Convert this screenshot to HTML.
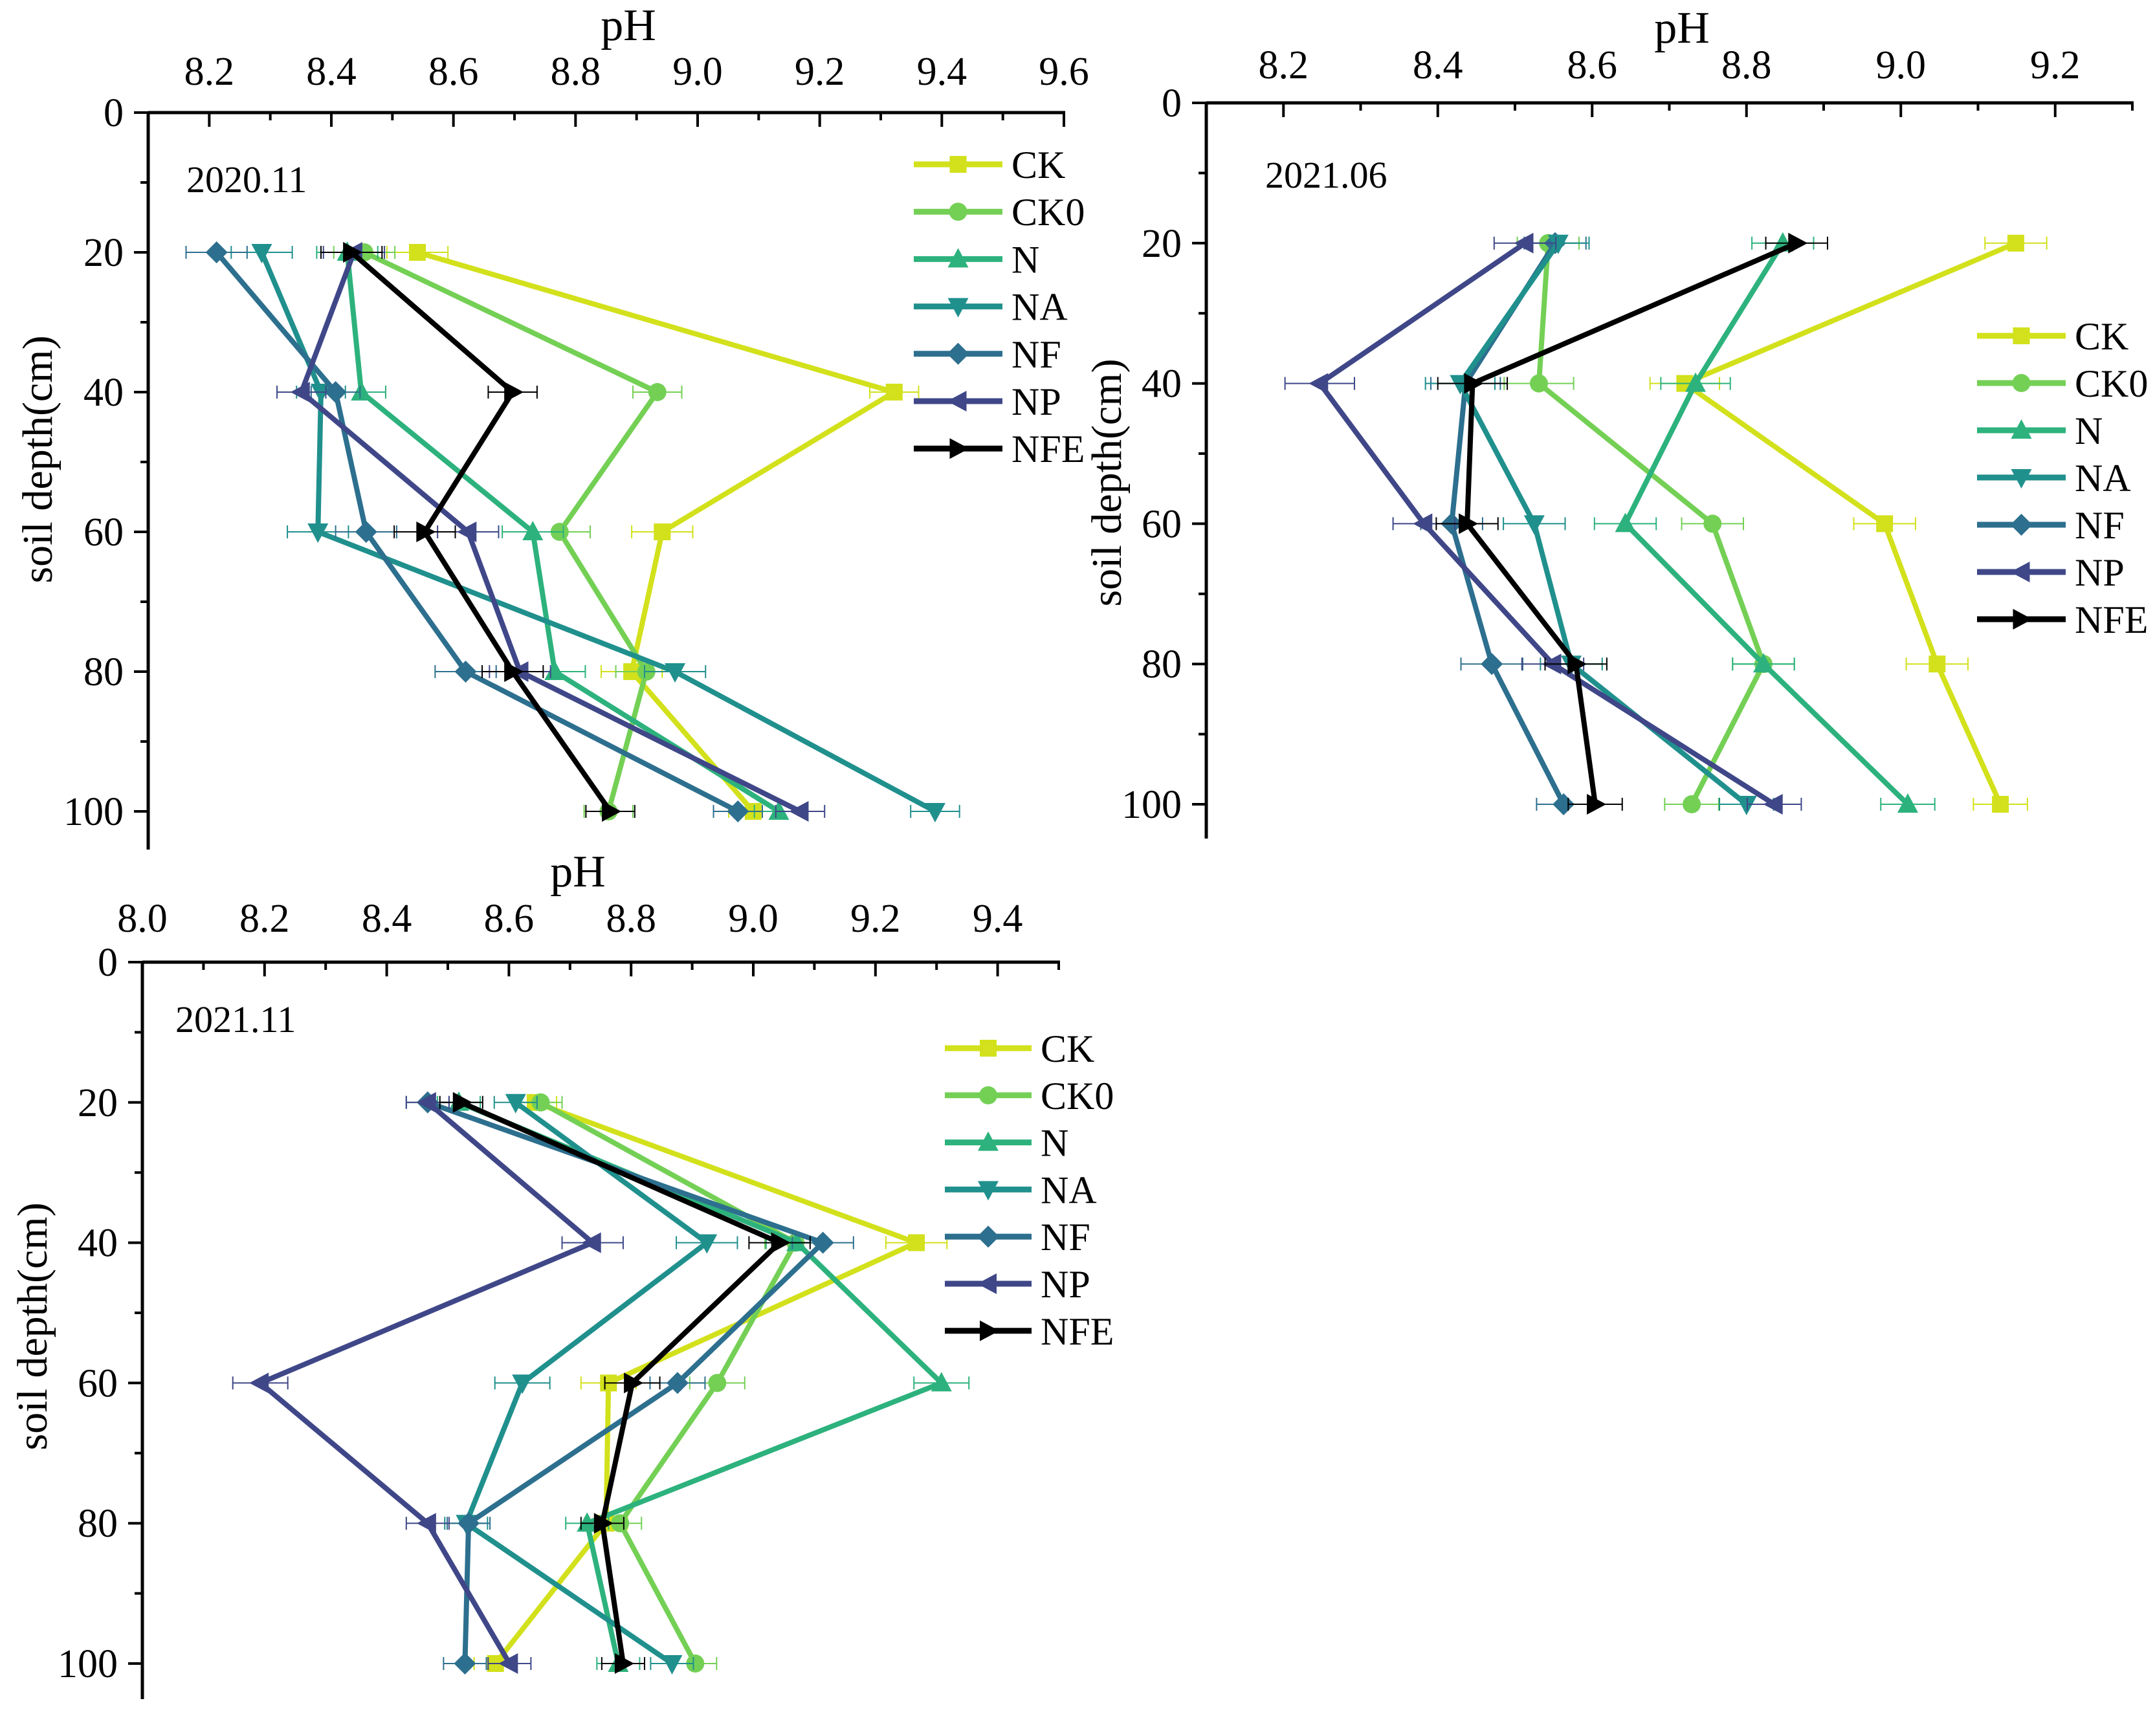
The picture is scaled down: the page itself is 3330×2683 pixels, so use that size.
<!DOCTYPE html>
<html><head><meta charset="utf-8"><style>
html,body{margin:0;padding:0;background:#fff;overflow:hidden;}
svg{display:block;}
text{font-family:"Liberation Serif","DejaVu Serif",serif;fill:#000;}
</style></head>
<body>
<svg id="fig" width="3330" height="2683" viewBox="0 0 3330 2683" xmlns="http://www.w3.org/2000/svg"></svg>
<script>
const seriesNames = ["CK","CK0","N","NA","NF","NP","NFE"];
const depths = [20,40,60,80,100];
const depthTicks = [0,20,40,60,80,100];
// Panel 2020.11
const p1CK  = [8.541,9.322,8.942,8.892,9.091];
const p1CK0 = [8.454,8.934,8.774,8.916,8.854];
const p1N   = [8.426,8.449,8.730,8.766,9.133];
const p1NA  = [8.286,8.383,8.378,8.963,9.389];
const p1NF  = [8.212,8.407,8.457,8.620,9.066];
const p1NP  = [8.437,8.351,8.624,8.709,9.168];
const p1NFE = [8.433,8.697,8.553,8.697,8.857];
const p1Err = [0.05,0.04,0.05,0.05,0.04];
const p1Ticks = ["8.2","8.4","8.6","8.8","9.0","9.2","9.4","9.6"];
// Panel 2021.06
const p2CK  = [9.149,8.720,8.979,9.047,9.129];
const p2CK0 = [8.543,8.531,8.756,8.822,8.729];
const p2N   = [8.847,8.734,8.643,8.822,9.009];
const p2NA  = [8.556,8.429,8.525,8.573,8.800];
const p2NF  = [8.552,8.436,8.418,8.470,8.563];
const p2NP  = [8.513,8.247,8.382,8.549,8.836];
const p2NFE = [8.865,8.445,8.438,8.579,8.604];
const p2Err = [0.04,0.045,0.04,0.04,0.035];
const p2Ticks = ["8.2","8.4","8.6","8.8","9.0","9.2"];
// Panel 2021.11
const p3CK  = [8.643,9.267,8.763,8.759,8.578];
const p3CK0 = [8.652,9.069,8.941,8.782,8.905];
const p3N   = [8.518,9.071,9.308,8.728,8.779];
const p3NA  = [8.611,8.924,8.622,8.530,8.867];
const p3NF  = [8.467,9.114,8.876,8.534,8.528];
const p3NP  = [8.467,8.737,8.193,8.467,8.601];
const p3NFE = [8.522,9.043,8.802,8.753,8.787];
const p3Err = [0.035,0.05,0.045,0.035,0.035];
const p3Ticks = ["8.0","8.2","8.4","8.6","8.8","9.0","9.2","9.4"];

const colors = ["#d2e11b","#74d055","#2db27d","#20908d","#2d6f8e","#3f4788","#000000"];
const markers = ["square","circle","up","down","diamond","left","right"];
const NS = "http://www.w3.org/2000/svg";
const svg = document.getElementById("fig");

function mk(tag, attrs, parent){
  const e = document.createElementNS(NS, tag);
  for (const k in attrs) e.setAttribute(k, attrs[k]);
  (parent||svg).appendChild(e);
  return e;
}
function marker(g, type, x, y, c){
  let e;
  const s = 15;
  if (type==="square") e = mk("rect",{x:x-13,y:y-13,width:26,height:26,fill:c},g);
  else if (type==="circle") e = mk("circle",{cx:x,cy:y,r:14,fill:c},g);
  else {
    let pts;
    if (type==="up") pts=[[x,y-s-2],[x-s-1,y+s-2],[x+s+1,y+s-2]];
    if (type==="down") pts=[[x,y+s+2],[x-s-1,y-s+2],[x+s+1,y-s+2]];
    if (type==="diamond") pts=[[x,y-17],[x+17,y],[x,y+17],[x-17,y]];
    if (type==="left") pts=[[x-s-2,y],[x+s-2,y-s-1],[x+s-2,y+s+1]];
    if (type==="right") pts=[[x+s+2,y],[x-s+2,y-s-1],[x-s+2,y+s+1]];
    e = mk("polygon",{points:pts.map(p=>p.join(",")).join(" "),fill:c},g);
  }
  return e;
}

function panel(cfg){
  const g = mk("g",{});
  
  
  const xS = v => cfg.x0 + (v - cfg.xmin)/(cfg.xmax-cfg.xmin)*(cfg.x1-cfg.x0);
  const yS = d => cfg.y0 + d/100*(cfg.y100-cfg.y0);
  const xa = mk("line",{x1:cfg.x0,y1:cfg.y0,x2:cfg.x1+2,y2:cfg.y0,stroke:"#000","stroke-width":5},g);
  
  
  const ya = mk("line",{x1:cfg.x0,y1:cfg.y0-2,x2:cfg.x0,y2:cfg.ybot,stroke:"#000","stroke-width":5},g);
  
  
  for (let v = cfg.xmin; v <= cfg.xmax + 1e-6; v += 0.1){
    const px = xS(v);
    const major = cfg.ticks.indexOf(v.toFixed(1)) >= 0;
    mk("line",{x1:px,y1:cfg.y0,x2:px,y2:cfg.y0+(major?22:12),stroke:"#000","stroke-width":4},g);
  }
  cfg.ticks.forEach(t=>{
    const tl = mk("text",{x:xS(parseFloat(t)),y:cfg.tickY,"font-size":62,"text-anchor":"middle"},g);
    tl.textContent = t;
    
    
  });
  for (let d = 0; d <= 100; d += 10){
    const py = yS(d);
    const major = d % 20 === 0;
    mk("line",{x1:cfg.x0,y1:py,x2:cfg.x0-(major?22:12),y2:py,stroke:"#000","stroke-width":4},g);
  }
  depthTicks.forEach(d=>{
    const tl = mk("text",{x:cfg.x0-38,y:yS(d)+21,"font-size":62,"text-anchor":"end"},g);
    tl.textContent = String(d);
    
    
  });
  const xt = mk("text",{x:cfg.xtX,y:cfg.xtY,"font-size":70,"text-anchor":"middle"},g);
  xt.textContent = "pH";
  
  
  const yt = mk("text",{x:0,y:0,"font-size":66,"text-anchor":"middle",transform:`translate(${cfg.ytX},${cfg.ytY}) rotate(-90)`},g);
  yt.textContent = "soil depth(cm)";
  
  
  const tt = mk("text",{x:cfg.titleX,y:cfg.titleY,"font-size":58},g);
  tt.textContent = cfg.title;
  
  
  const order = cfg.order || [0,1,2,3,4,5,6];
  order.forEach(i=>{
    const vals = cfg.data[i];
    const sg = mk("g",{},g);
    
    
    const c = colors[i];
    vals.forEach((v,j)=>{
      const py=yS(depths[j]), e=cfg.err[j];
      const a=xS(v-e), b=xS(v+e);
      const eb = mk("path",{d:`M${a},${py}H${b}M${a},${py-10}V${py+10}M${b},${py-10}V${py+10}`,stroke:c,"stroke-width":2,fill:"none"},sg);
      
      
    });
    const ln = mk("polyline",{points:vals.map((v,j)=>xS(v)+","+yS(depths[j])).join(" "),fill:"none",stroke:c,"stroke-width":8,"stroke-linejoin":"miter"},sg);
    
    
    vals.forEach((v,j)=>{
      const m = marker(sg, markers[i], xS(v), yS(depths[j]), c);
      
      
    });
  });
  const lg = mk("g",{},g);
  
  
  seriesNames.forEach((n,i)=>{
    const y = cfg.legY + i*cfg.legDy;
    const eg = mk("g",{},lg);
    
    
    mk("line",{x1:cfg.legX,y1:y,x2:cfg.legX+cfg.legW,y2:y,stroke:colors[i],"stroke-width":9},eg);
    marker(eg, markers[i], cfg.legX+cfg.legW/2, y, colors[i]);
    const t = mk("text",{x:cfg.legX+cfg.legW+14,y:y+21,"font-size":60},eg);
    t.textContent = n;
  });
}

panel({name:"panel-2020-11",title:"2020.11",x0:229,x1:1644,xmin:8.1,xmax:9.6,y0:174,y100:1254,ybot:1313,tickY:131,
  ticks:p1Ticks,data:[p1CK,p1CK0,p1N,p1NA,p1NF,p1NP,p1NFE],err:p1Err,
  xtX:971,xtY:62,ytX:80,ytY:710,titleX:288,titleY:297,legX:1412,legW:137,legY:254,legDy:73.2});
panel({name:"panel-2021-06",title:"2021.06",x0:1864,x1:3295,xmin:8.1,xmax:9.3,y0:159,y100:1243,ybot:1296,tickY:121,
  ticks:p2Ticks,data:[p2CK,p2CK0,p2N,p2NA,p2NF,p2NP,p2NFE],err:p2Err,order:[0,1,2,4,3,5,6],
  xtX:2599,xtY:66,ytX:1732,ytY:746,titleX:1955,titleY:290,legX:3055,legW:137,legY:519,legDy:73});
panel({name:"panel-2021-11",title:"2021.11",x0:220,x1:1636,xmin:8.0,xmax:9.5,y0:1487,y100:2571,ybot:2626,tickY:1440,
  ticks:p3Ticks,data:[p3CK,p3CK0,p3N,p3NA,p3NF,p3NP,p3NFE],err:p3Err,
  xtX:893,xtY:1370,ytX:72,ytY:2050,titleX:271,titleY:1595,legX:1460,legW:134,legY:1620,legDy:72.8});
</script>
</body></html>
